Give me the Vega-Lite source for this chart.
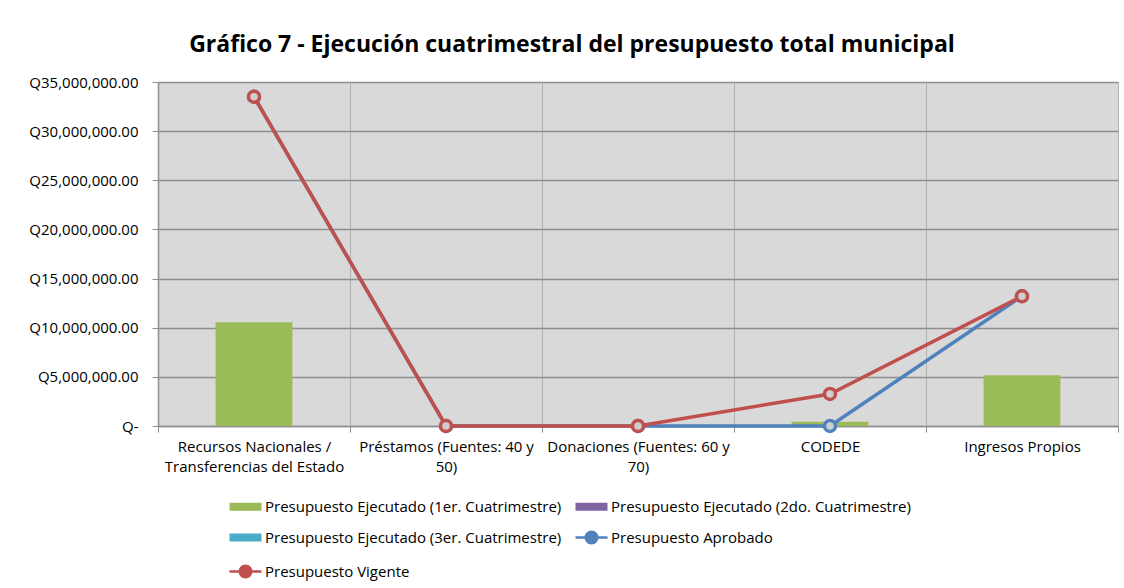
{
  "$schema": "https://vega.github.io/schema/vega-lite/v6.json",
  "width": 960,
  "height": 344,
  "autosize": {"type": "none"},
  "padding": {"left": 158, "top": 82, "right": 6, "bottom": 162},
  "background": "white",
  "config": {
    "font": "Open Sans",
    "view": {"fill": "#d9d9d9", "stroke": null}
  },
  "title": {
    "text": "Gráfico 7 - Ejecución cuatrimestral del presupuesto total municipal",
    "font": "Open Sans",
    "fontSize": 23,
    "fontWeight": "bold",
    "color": "#000000",
    "anchor": "middle",
    "dx": -66,
    "offset": 18
  },
  "data": {
    "values": [
      {"cat": "Recursos Nacionales / Transferencias del Estado", "serie": "Presupuesto Ejecutado (1er. Cuatrimestre)", "valor": 10550000},
      {"cat": "Recursos Nacionales / Transferencias del Estado", "serie": "Presupuesto Ejecutado (2do. Cuatrimestre)", "valor": 0},
      {"cat": "Recursos Nacionales / Transferencias del Estado", "serie": "Presupuesto Ejecutado (3er. Cuatrimestre)", "valor": 0},
      {"cat": "Recursos Nacionales / Transferencias del Estado", "serie": "Presupuesto Aprobado", "valor": 33500000},
      {"cat": "Recursos Nacionales / Transferencias del Estado", "serie": "Presupuesto Vigente", "valor": 33500000},
      {"cat": "Préstamos (Fuentes: 40 y 50)", "serie": "Presupuesto Ejecutado (1er. Cuatrimestre)", "valor": 0},
      {"cat": "Préstamos (Fuentes: 40 y 50)", "serie": "Presupuesto Ejecutado (2do. Cuatrimestre)", "valor": 0},
      {"cat": "Préstamos (Fuentes: 40 y 50)", "serie": "Presupuesto Ejecutado (3er. Cuatrimestre)", "valor": 0},
      {"cat": "Préstamos (Fuentes: 40 y 50)", "serie": "Presupuesto Aprobado", "valor": 0},
      {"cat": "Préstamos (Fuentes: 40 y 50)", "serie": "Presupuesto Vigente", "valor": 0},
      {"cat": "Donaciones  (Fuentes: 60 y 70)", "serie": "Presupuesto Ejecutado (1er. Cuatrimestre)", "valor": 0},
      {"cat": "Donaciones  (Fuentes: 60 y 70)", "serie": "Presupuesto Ejecutado (2do. Cuatrimestre)", "valor": 0},
      {"cat": "Donaciones  (Fuentes: 60 y 70)", "serie": "Presupuesto Ejecutado (3er. Cuatrimestre)", "valor": 0},
      {"cat": "Donaciones  (Fuentes: 60 y 70)", "serie": "Presupuesto Aprobado", "valor": 0},
      {"cat": "Donaciones  (Fuentes: 60 y 70)", "serie": "Presupuesto Vigente", "valor": 0},
      {"cat": "CODEDE", "serie": "Presupuesto Ejecutado (1er. Cuatrimestre)", "valor": 440000},
      {"cat": "CODEDE", "serie": "Presupuesto Ejecutado (2do. Cuatrimestre)", "valor": 0},
      {"cat": "CODEDE", "serie": "Presupuesto Ejecutado (3er. Cuatrimestre)", "valor": 0},
      {"cat": "CODEDE", "serie": "Presupuesto Aprobado", "valor": 0},
      {"cat": "CODEDE", "serie": "Presupuesto Vigente", "valor": 3260000},
      {"cat": "Ingresos Propios", "serie": "Presupuesto Ejecutado (1er. Cuatrimestre)", "valor": 5160000},
      {"cat": "Ingresos Propios", "serie": "Presupuesto Ejecutado (2do. Cuatrimestre)", "valor": 0},
      {"cat": "Ingresos Propios", "serie": "Presupuesto Ejecutado (3er. Cuatrimestre)", "valor": 0},
      {"cat": "Ingresos Propios", "serie": "Presupuesto Aprobado", "valor": 13200000},
      {"cat": "Ingresos Propios", "serie": "Presupuesto Vigente", "valor": 13200000}
    ]
  },
  "encoding": {
    "x": {
      "field": "cat",
      "type": "nominal",
      "sort": null,
      "title": null,
      "scale": {"paddingInner": 0, "paddingOuter": 0},
      "axis": {
        "labelAngle": 0,
        "labelFont": "Open Sans",
        "labelFontSize": 15,
        "labelColor": "#000000",
        "labelPadding": 7,
        "labelLineHeight": 20,
        "labelBaseline": "top",
        "labelLimit": 400,
        "labelExpr": "datum.value == 'Recursos Nacionales / Transferencias del Estado' ? ['Recursos Nacionales /', 'Transferencias del Estado'] : datum.value == 'Préstamos (Fuentes: 40 y 50)' ? ['Préstamos (Fuentes: 40 y', '50)'] : datum.value == 'Donaciones  (Fuentes: 60 y 70)' ? ['Donaciones  (Fuentes: 60 y', '70)'] : datum.value",
        "tickBand": "extent",
        "tickSize": 6,
        "tickColor": "#8e8e8e",
        "domainColor": "#8e8e8e",
        "domainWidth": 1.5,
        "grid": true,
        "gridColor": "#b0b0b0",
        "gridWidth": 1
      }
    },
    "y": {
      "field": "valor",
      "type": "quantitative",
      "title": null,
      "scale": {"domain": [0, 35000000], "nice": false},
      "axis": {
        "values": [0, 5000000, 10000000, 15000000, 20000000, 25000000, 30000000, 35000000],
        "labelExpr": "datum.value == 0 ? 'Q-' : 'Q' + format(datum.value, ',.2f')",
        "labelFont": "Open Sans",
        "labelFontSize": 15,
        "labelColor": "#000000",
        "labelPadding": 14,
        "tickSize": 6,
        "tickColor": "#8e8e8e",
        "domainColor": "#8e8e8e",
        "domainWidth": 1.5,
        "grid": true,
        "gridColor": "#8e8e8e",
        "gridWidth": 1.5
      }
    }
  },
  "layer": [
    {
      "transform": [{"filter": "indexof(datum.serie, 'Ejecutado') >= 0"}],
      "mark": {"type": "bar", "width": {"band": 0.4}},
      "encoding": {
        "color": {
          "field": "serie",
          "type": "nominal",
          "scale": {
            "domain": ["Presupuesto Ejecutado (1er. Cuatrimestre)", "Presupuesto Ejecutado (2do. Cuatrimestre)", "Presupuesto Ejecutado (3er. Cuatrimestre)", "Presupuesto Aprobado", "Presupuesto Vigente"],
            "range": ["#9bbb59", "#8064a2", "#4bacc6", "#4f81bd", "#c0504d"]
          },
          "legend": {
            "title": null,
            "orient": "none",
            "legendX": 80,
            "legendY": 417,
            "direction": "horizontal",
            "columns": 2,
            "padding": 0,
            "rowPadding": 11,
            "columnPadding": 8,
            "labelFont": "Open Sans",
            "labelFontSize": 15,
            "labelColor": "#000000",
            "labelOffset": 12,
            "labelLimit": 400,
            "symbolSize": 1024,
            "encode": {
              "symbols": {
                "update": {
                  "shape": {"signal": "datum.index < 3 ? 'M-1,-0.25L1,-0.25L1,0.25L-1,0.25Z' : 'M-1,0L-0.36,0M0.36,0L1,0M-0.36,0A0.36,0.36,0,1,1,0.36,0A0.36,0.36,0,1,1,-0.36,0'"},
                  "fill": {"signal": "datum.index == 0 ? '#9bbb59' : datum.index == 1 ? '#8064a2' : datum.index == 2 ? '#4bacc6' : '#ffffff'"},
                  "stroke": {"signal": "datum.index == 3 ? '#4f81bd' : datum.index == 4 ? '#c0504d' : 'transparent'"},
                  "strokeWidth": {"signal": "datum.index < 3 ? 0 : 2.5"}
                }
              }
            }
          }
        }
      }
    },
    {
      "transform": [{"filter": "datum.serie == 'Presupuesto Aprobado'"}],
      "mark": {"type": "line", "strokeWidth": 3.5},
      "encoding": {
        "color": {"field": "serie", "type": "nominal"}
      }
    },
    {
      "transform": [{"filter": "datum.serie == 'Presupuesto Aprobado'"}],
      "mark": {"type": "point", "shape": "circle", "filled": false, "fill": "#cfcfcf", "size": 120, "strokeWidth": 3.5, "opacity": 1},
      "encoding": {
        "color": {"field": "serie", "type": "nominal"}
      }
    },
    {
      "transform": [{"filter": "datum.serie == 'Presupuesto Vigente'"}],
      "mark": {"type": "line", "strokeWidth": 3.5},
      "encoding": {
        "color": {"field": "serie", "type": "nominal"}
      }
    },
    {
      "transform": [{"filter": "datum.serie == 'Presupuesto Vigente'"}],
      "mark": {"type": "point", "shape": "circle", "filled": false, "fill": "#cfcfcf", "size": 120, "strokeWidth": 3.5, "opacity": 1},
      "encoding": {
        "color": {"field": "serie", "type": "nominal"}
      }
    }
  ]
}
